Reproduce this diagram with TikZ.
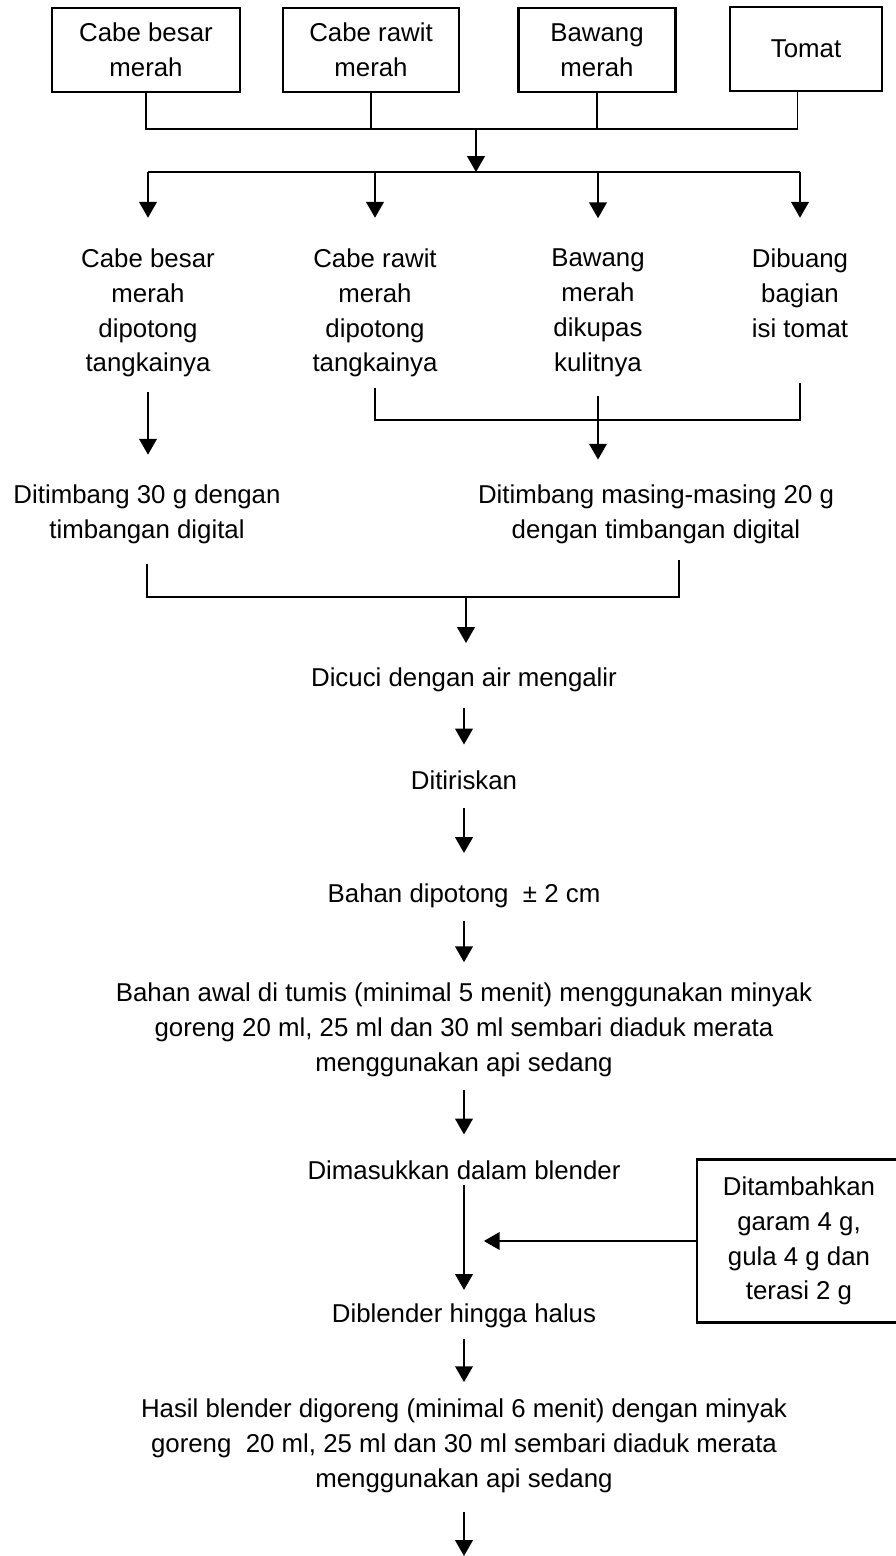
\documentclass[tikz,border=0pt]{standalone}
\usepackage{fontspec}
\setmainfont{Liberation Sans}
\usetikzlibrary{arrows.meta}

\tikzset{
  box/.style={draw, line width=1.3pt, align=center, inner sep=0pt, minimum height=1.68cm},
  txt/.style={align=center, inner sep=0pt},
  arr/.style={line width=1.15pt, -{Triangle[length=9pt, width=10pt]}},
  ln/.style={line width=0.8pt}
}

\begin{document}
\begin{tikzpicture}[x=0.02cm, y=-0.02cm, font=\fontsize{14.7pt}{19.84pt}\selectfont]
  \useasboundingbox (0,0) rectangle (896,1556);

  % Raw materials
  \node[box, minimum width=3.76cm] (b1) at (146,50) {Cabe besar\\merah};
  \node[box, minimum width=3.52cm] (b2) at (371,50) {Cabe rawit\\merah};
  \node[box, minimum width=3.14cm] (b3) at (597,50) {Bawang\\merah};
  \node[box, minimum width=3.04cm] (b4) at (806,49) {Tomat};

  % Join and split
  \coordinate (j1) at (476,129);
  \coordinate (j2) at (476,172);
  \draw[ln] (b1.south) |- (j1);
  \draw[ln] (b2.south) -- (b2.south |- j1);
  \draw[ln] (b3.south) -- (b3.south |- j1);
  \draw[ln] ([xshift=-5pt]b4.south) |- (j1);
  \draw[arr] (j1) -- (j2);

  % Preparation of each material
  \node[txt] (s1) at (148,313) {Cabe besar\\merah\\dipotong\\tangkainya};
  \node[txt] (s2) at (375,313) {Cabe rawit\\merah\\dipotong\\tangkainya};
  \node[txt] (s3) at (598,313) {Bawang\\merah\\dikupas\\kulitnya};
  \node[txt] (s4) at (800,293) {Dibuang\\bagian\\isi tomat};

  \draw[ln] (s1.north |- j2) -- (s4.north |- j2);
  \foreach \s in {s1,s2,s3,s4}
    \draw[arr, shorten >=17.4pt] (\s.north |- j2) -- (\s.north);

  % Weighing
  \node[txt] (t1) at (147,514) {Ditimbang 30 g dengan\\timbangan digital};
  \node[txt] (t2) at (656,514) {Ditimbang masing-masing 20 g\\dengan timbangan digital};

  \draw[arr, shorten <=8pt, shorten >=16.8pt] (s1.south) -- (s1.south |- t1.north);
  \coordinate (jr) at (0,420);
  \draw[ln] ([yshift=-5.7pt]s2.south) -- (s2.south |- jr) -- (s4.south |- jr) -- ([yshift=-26pt]s4.south);
  \draw[arr, shorten <=10.9pt, shorten >=14pt] (s3.south) -- (s3.south |- t2.north);

  \coordinate (j3) at (466,597);
  \draw[ln] ([yshift=-11.5pt]t1.south) -- (t1.south |- j3) -- ([xshift=13pt]t2.south |- j3) -- ([xshift=13pt,yshift=-9.2pt]t2.south);

  % Processing steps
  \node[txt] (u1) at (464,680) {Dicuci dengan air mengalir};
  \node[txt] (u2) at (464,780) {Ditiriskan};
  \node[txt] (u3) at (464,896) {Bahan dipotong~ ± 2 cm};
  \node[txt] (u4) at (464,1030) {Bahan awal di tumis (minimal 5 menit) menggunakan minyak\\goreng 20 ml, 25 ml dan 30 ml sembari diaduk merata\\menggunakan api sedang};
  \node[txt] (u5) at (464,1170) {Dimasukkan dalam blender};
  \node[txt] (u6) at (464,1316) {Diblender hingga halus};
  \node[txt] (u7) at (464,1446) {Hasil blender digoreng (minimal 6 menit) dengan minyak\\goreng~ 20 ml, 25 ml dan 30 ml sembari diaduk merata\\menggunakan api sedang};

  \node[box, minimum width=4.08cm, minimum height=3.26cm] (add) at (799,1241) {Ditambahkan\\garam 4 g,\\gula 4 g dan\\terasi 2 g};

  \draw[arr, shorten >=14pt] (j3) -- (j3 |- u1.north);
  \draw[arr, shorten <=9.1pt, shorten >=14.6pt] (u1.south) -- (u2.north);
  \draw[arr, shorten <=10.6pt, shorten >=17.4pt] (u2.south) -- (u3.north);
  \draw[arr, shorten <=6.9pt, shorten >=11.7pt] (u3.south) -- (u4.north);
  \draw[arr, shorten <=7.5pt, shorten >=14.6pt] (u4.south) -- (u5.north);
  \draw[arr, shorten <=3.2pt, shorten >=7.8pt] (u5.south) -- (u6.north);
  \draw[arr, shorten >=11.3pt] (add.west) -- (add.west -| u5.south);
  \draw[arr, shorten <=5.8pt, shorten >=9.5pt] (u6.south) -- (u7.north);

  \coordinate (fin) at (464,1556);
  \draw[arr, shorten <=10.9pt] (u7.south) -- (fin);
\end{tikzpicture}
\end{document}
